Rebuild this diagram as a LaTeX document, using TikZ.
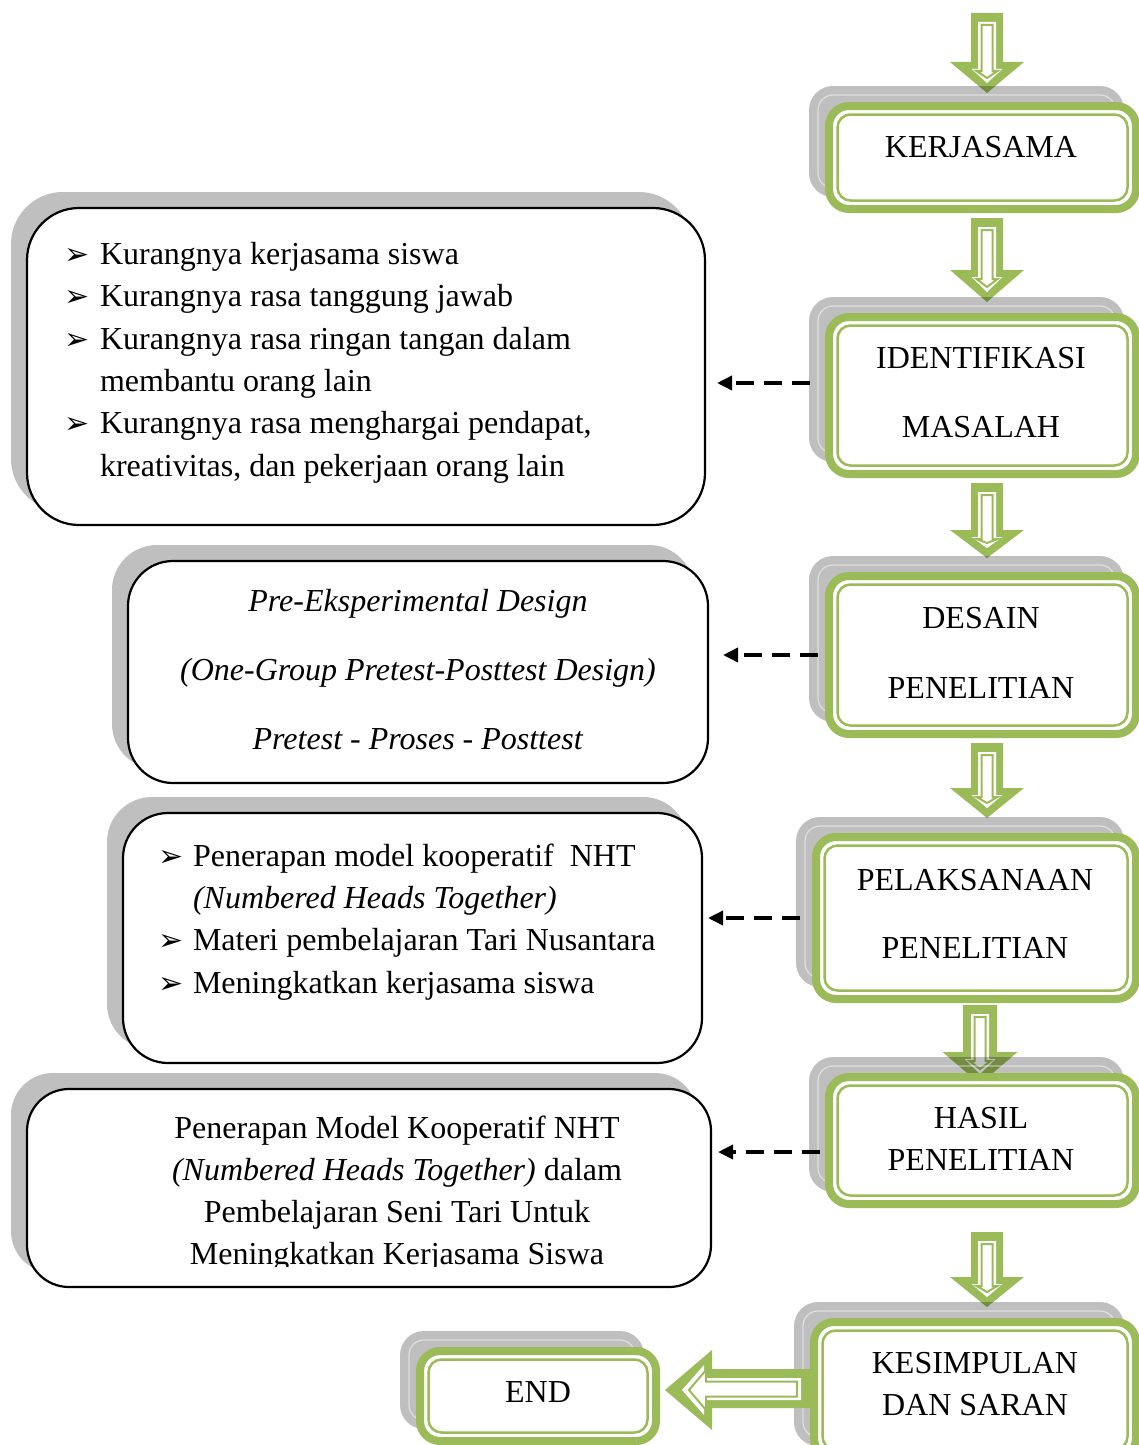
\documentclass[tikz,border=0pt]{standalone}
\usepackage{fontspec}
\setmainfont{Liberation Serif}
\newfontfamily\dejavu{DejaVu Sans}
\usetikzlibrary{arrows.meta}
\definecolor{gr}{HTML}{9BBB59}
\pgfdeclarelayer{bglayer}
\pgfdeclarelayer{arrowlayer}
\pgfdeclarelayer{shadowlayer}
\pgfsetlayers{bglayer,arrowlayer,shadowlayer,main}
\tikzset{
  gboxst/.style={draw=gr, line width=8, fill=white, rounded corners=20, inner sep=0, outer sep=0},
  lboxst/.style={draw=black, line width=2.2, fill=white, inner sep=0, outer sep=0},
  shd/.style={fill=black, fill opacity=0.25},
  txt/.style={font=\fontsize{32}{42}\selectfont, inner sep=0, outer sep=0},
  dasharr/.style={draw=black, line width=3.5, dash pattern=on 18pt off 10pt, -{Triangle[length=15pt,width=14pt]}}
}
\newcommand\bul{{\dejavu\fontsize{30}{30}\selectfont ➢}}
% green box: name, x1, y1, x2, y2 (path of thick line)
\newcommand\gbox[5]{%
  \node[gboxst, minimum width={#4-#2}, minimum height={#5-#3}] (#1) at ({(#2+#4)/2},{(#3+#5)/2}) {};
  \draw[gr, line width=2.5, rounded corners=13] ([shift={(8.5,8.5)}]#1.north west) rectangle ([shift={(-8.5,-8.5)}]#1.south east);
  \begin{pgfonlayer}{shadowlayer}
    \fill[shd, rounded corners=24] ([shift={(-20,-20)}]#1.north west) rectangle ([shift={(-12,-12)}]#1.south east);
    \draw[white, opacity=0.5, line width=1.2, rounded corners=15] ([shift={(-11,-11)}]#1.north west) rectangle ([shift={(-21,-21)}]#1.south east);
  \end{pgfonlayer}}
% left box: name, x1, y1, x2, y2, radius
\newcommand\lbox[6]{%
  \node[lboxst, rounded corners=#6, minimum width={#4-#2}, minimum height={#5-#3}] (#1) at ({(#2+#4)/2},{(#3+#5)/2}) {};
  \begin{pgfonlayer}{shadowlayer}
    \fill[shd, rounded corners=#6] ([shift={(-16,-16)}]#1.north west) rectangle ([shift={(-14,-14)}]#1.south east);
  \end{pgfonlayer}}
% down block arrow: cx, top, head y, tip y, shaft half, head half
\newcommand\dnarrow[6]{%
  \begin{pgfonlayer}{arrowlayer}
  \fill[gr] ({#1-#5},#2) -- ({#1+#5},#2) -- ({#1+#5},#3) -- ({#1+#6},#3) -- (#1,#4) -- ({#1-#6},#3) -- ({#1-#5},#3) -- cycle;
  \fill[white] ({#1-9},{#2+9}) -- ({#1+9},{#2+9}) -- ({#1+9},{#3+7}) -- ({#1+15.5},{#3+7}) -- (#1,{#4-10}) -- ({#1-15.5},{#3+7}) -- ({#1-9},{#3+7}) -- cycle;
  \draw[gr, line width=2, fill=white] ({#1-5.5},{#2+12}) -- ({#1+5.5},{#2+12}) -- ({#1+5.5},{#3+9}) -- ({#1+10.5},{#3+9}) -- (#1,{#4-15}) -- ({#1-10.5},{#3+9}) -- ({#1-5.5},{#3+9}) -- cycle;
  \end{pgfonlayer}}
\begin{document}
\begin{tikzpicture}[x=1pt,y=-1pt]
\useasboundingbox (0,0) rectangle (1138,1445);
\begin{pgfonlayer}{bglayer}
\fill[white] (0,0) rectangle (1138,1445);
\end{pgfonlayer}

% ---------- left block arrow (KESIMPULAN -> END) ----------
\fill[gr] (665,1390) -- (712,1350) -- (712,1369) -- (812,1369) -- (812,1408) -- (712,1408) -- (712,1430) -- cycle;
\fill[white] (682,1390) -- (704,1365) -- (704,1378) -- (801,1378) -- (801,1400) -- (704,1400) -- (704,1415) -- cycle;
\draw[gr, line width=2, fill=white] (689,1390) -- (706,1370) -- (706,1381.5) -- (797,1381.5) -- (797,1396.5) -- (706,1396.5) -- (706,1410) -- cycle;

% ---------- green boxes ----------
\gbox{kerj}{829}{106}{1136}{209}
\gbox{ident}{829}{317}{1136}{474}
\gbox{desain}{829}{576}{1136}{734}
\gbox{pelak}{816}{837}{1136}{999}
\gbox{hasil}{829}{1077}{1136}{1204}
\gbox{kesim}{814}{1322}{1136}{1458}
\gbox{endb}{420}{1351}{656}{1441}

\node[txt, anchor=base] (tkerj) at (981,157) {KERJASAMA};
\node[txt, anchor=base] (tident1) at (981,368) {IDENTIFIKASI};
\node[txt, anchor=base] (tident2) at (981,437) {MASALAH};
\node[txt, anchor=base] (tdesain1) at (981,628) {DESAIN};
\node[txt, anchor=base] (tdesain2) at (981,698) {PENELITIAN};
\node[txt, anchor=base] (tpelak1) at (975,890) {PELAKSANAAN};
\node[txt, anchor=base] (tpelak2) at (975,958) {PENELITIAN};
\node[txt, anchor=base] (thasil1) at (981,1128) {HASIL};
\node[txt, anchor=base] (thasil2) at (981,1170) {PENELITIAN};
\node[txt, anchor=base] (tkesim1) at (975,1373) {KESIMPULAN};
\node[txt, anchor=base] (tkesim2) at (975,1415) {DAN SARAN};
\node[txt, anchor=base] (tend) at (538,1402) {END};

% ---------- down block arrows ----------
\dnarrow{987}{13}{62}{93}{16}{37}
\dnarrow{987}{218}{270}{302}{16}{37}
\dnarrow{987}{483}{530}{558}{16}{37}
\dnarrow{987}{743}{788}{818}{16}{37}
\dnarrow{980}{1005}{1052}{1084}{17}{37.5}
\dnarrow{987}{1232}{1277}{1307}{16}{37}

% ---------- left boxes ----------
\lbox{la}{27}{208}{705}{525}{52}
\lbox{lb}{128}{561}{708}{783}{45}
\lbox{lc}{123}{813}{702}{1063}{45}
\lbox{ld}{27}{1089}{711}{1287}{42}

% box a text
\node[txt, anchor=base west] (a1) at (64,264) {\makebox[36pt][l]{\bul}Kurangnya kerjasama siswa};
\node[txt, anchor=base west] (a2) at (64,306) {\makebox[36pt][l]{\bul}Kurangnya rasa tanggung jawab};
\node[txt, anchor=base west] (a3) at (64,349) {\makebox[36pt][l]{\bul}Kurangnya rasa ringan tangan dalam};
\node[txt, anchor=base west] (a4) at (100,391) {membantu orang lain};
\node[txt, anchor=base west] (a5) at (64,433) {\makebox[36pt][l]{\bul}Kurangnya rasa menghargai pendapat,};
\node[txt, anchor=base west] (a6) at (100,476) {kreativitas, dan pekerjaan orang lain};

% box b text
\node[txt, anchor=base] (b1) at (418,611) {\textit{Pre-Eksperimental Design}};
\node[txt, anchor=base] (b2) at (418,680) {\textit{(One-Group Pretest-Posttest Design)}};
\node[txt, anchor=base] (b3) at (418,749) {\textit{Pretest - Proses - Posttest}};

% box c text
\node[txt, anchor=base west] (c1) at (158,866) {\makebox[35pt][l]{\bul}Penerapan model kooperatif~ NHT};
\node[txt, anchor=base west] (c2) at (193,908) {\textit{(Numbered Heads Together)}};
\node[txt, anchor=base west] (c3) at (158,950) {\makebox[35pt][l]{\bul}Materi pembelajaran Tari Nusantara};
\node[txt, anchor=base west] (c4) at (158,993) {\makebox[35pt][l]{\bul}Meningkatkan kerjasama siswa};

% box d text
\node[txt, anchor=base] (d1) at (397,1138) {Penerapan Model Kooperatif NHT};
\node[txt, anchor=base] (d2) at (397,1180) {\textit{(Numbered Heads Together)} dalam};
\node[txt, anchor=base] (d3) at (397,1222) {Pembelajaran Seni Tari Untuk};
\begin{scope}
\clip (30,1235) rectangle (708,1266);
\node[txt, anchor=base] (d4) at (397,1264) {Meningkatkan Kerjasama Siswa};
\end{scope}

% ---------- dashed connectors ----------
\coordinate (y1) at (0,383);
\coordinate (y2) at (0,655);
\coordinate (y3) at (0,918);
\coordinate (y4) at (0,1152);
\draw[dasharr, shorten <=19pt, shorten >=12pt] (y1 -| ident.west) -- (y1 -| la.east);
\draw[dasharr, shorten <=11pt, shorten >=15pt] (y2 -| desain.west) -- (y2 -| lb.east);
\draw[dasharr, shorten <=16pt, shorten >=6pt] (y3 -| pelak.west) -- (y3 -| lc.east);
\draw[dasharr, shorten <=9pt, shorten >=7pt] (y4 -| hasil.west) -- (y4 -| ld.east);
\end{tikzpicture}
\end{document}
